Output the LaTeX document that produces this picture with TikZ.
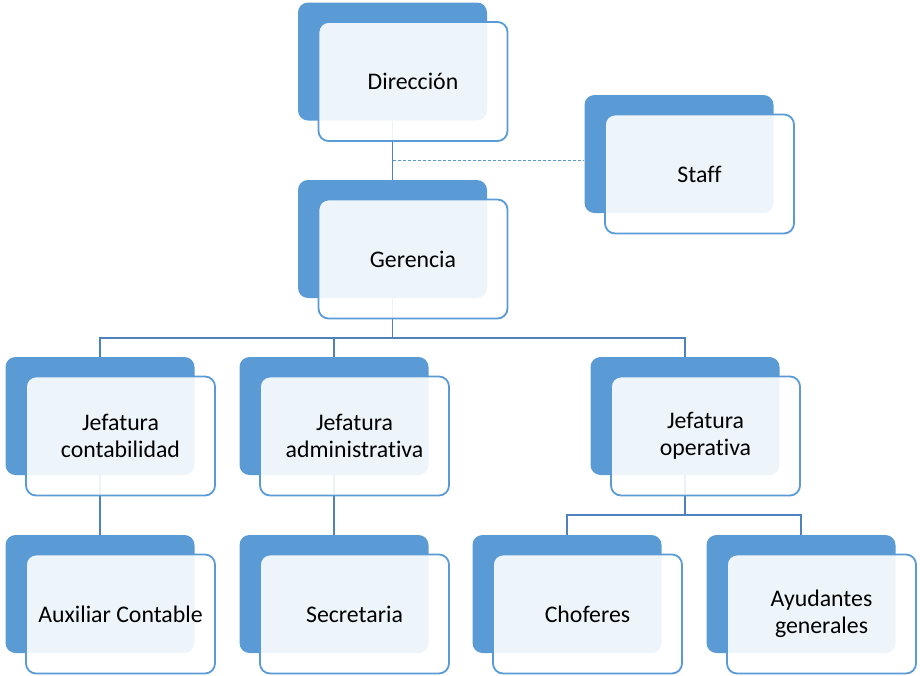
\documentclass[tikz,border=0pt]{standalone}
\usepackage{fontspec}
\setmainfont{Carlito}[RawFeature=-liga]
\usetikzlibrary{calc}
\definecolor{azul}{RGB}{91,155,213}
\definecolor{azulosc}{RGB}{79,129,189}

\begin{document}
\begin{tikzpicture}[x=1pt,y=-1pt,
  atras/.style={fill=azul, rounded corners=10pt, minimum width=189pt, minimum height=118pt, inner sep=0},
  frente/.style={draw=azul, line width=1.8pt, fill=white, fill opacity=.9, text opacity=1, rounded corners=10pt,
    minimum width=189pt, minimum height=119pt, inner sep=0, align=center, font=\fontsize{23.8}{27}\selectfont},
  linea/.style={azulosc, line width=1.6pt}]
\useasboundingbox (0,0) rectangle (920,675);
% cajas de fondo
\node[atras] (dir) at (392.5,61.5) {};
\node[atras] (staff) at (679,154) {};
\node[atras] (ger) at (392.5,239) {};
\node[atras] (jcon) at (100,416) {};
\node[atras] (jadm) at (334,416) {};
\node[atras] (jope) at (685,416) {};
\node[atras] (aux) at (100,594) {};
\node[atras] (sec) at (334,594) {};
\node[atras] (cho) at (567,594) {};
\node[atras] (ayu) at (801,594) {};
% lineas
\coordinate (S) at (392.5,160);
\coordinate (B) at (392.5,338);
\coordinate (O) at (685,515);
\draw[linea] (dir.south) -- (ger.north);
\draw[azul, line width=.9pt, dashed, dash pattern=on 3pt off 2pt] (S) -- (S -| staff.west);
\draw[linea] (ger.south) -- (B);
\draw[linea] (jcon.north) |- (B) -| (jope.north);
\draw[linea] (jadm.north) -- (jadm.north |- B);
\draw[linea] (jcon.south) -- (aux.north);
\draw[linea] (jadm.south) -- (sec.north);
\draw[linea] (jope.south) -- (O);
\draw[linea] (cho.north) |- (O) -| (ayu.north);
% cajas de frente
\foreach \n/\t in {dir/Dirección, staff/Staff, ger/Gerencia, jcon/Jefatura\\contabilidad,
  jadm/Jefatura\\administrativa, jope/Jefatura\\operativa, aux/Auxiliar Contable,
  sec/Secretaria, cho/Choferes, ayu/Ayudantes\\generales}
  \node[frente] (\n F) at ([xshift=20.5pt,yshift=-20pt]\n.center) {\t};
\end{tikzpicture}
\end{document}
